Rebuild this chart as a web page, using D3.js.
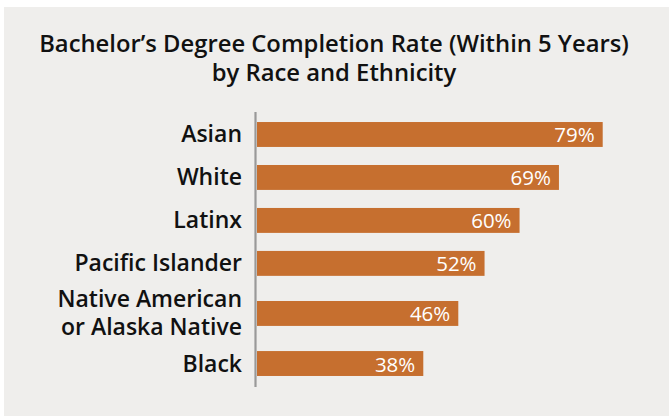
<!DOCTYPE html>
<html>
<head>
<meta charset="utf-8">
<script src="https://cdn.jsdelivr.net/npm/d3@7"></script>
<style>
  html, body { margin: 0; padding: 0; background: #fff; }
  svg { display: block; }
  text { font-family: "Open Sans", "Noto Sans", sans-serif; font-variant-ligatures: none; }
</style>
</head>
<body>
<div id="chart"></div>
<script>
// Datos del gráfico
const categorias = [["Asian"], ["White"], ["Latinx"], ["Pacific Islander"], ["Native American", "or Alaska Native"], ["Black"]];
const valores = [79, 69, 60, 52, 46, 38];
const titulo = ["Bachelor\u2019s Degree Completion Rate (Within 5 Years)", "by Race and Ethnicity"];

const width = 670, height = 416;
const colorBarra = "#c66f2f";
const colorFondo = "#efeeec";

const svg = d3.select("#chart").append("svg")
    .attr("width", width)
    .attr("height", height);

// Panel gris de fondo
svg.append("rect")
    .attr("x", 4).attr("y", 7)
    .attr("width", width - 5).attr("height", height - 7)
    .style("fill", colorFondo);

// Título
svg.append("text")
    .attr("text-anchor", "middle")
    .style("font-size", "23.8px")
    .style("font-weight", 600)
    .style("fill", "#111")
    .selectAll("tspan")
    .data(titulo)
    .join("tspan")
    .attr("x", 334)
    .attr("y", (d, i) => 52 + i * 29)
    .text(d => d);

// Cada fila ocupa un espacio según el número de líneas de su etiqueta
const pesos = categorias.map(c => 1 + 0.33 * (c.length - 1));
const acumulado = [0];
pesos.forEach(p => acumulado.push(acumulado[acumulado.length - 1] + p));
const total = acumulado[acumulado.length - 1];

const y = d3.scaleLinear().domain([0, total]).range([113, 385]);
const unidad = y(1) - y(0);
const grosor = unidad * 0.58;
const centro = i => y(acumulado[i] + pesos[i] / 2);

const x = d3.scaleLinear().domain([0, 100]).range([257, 694.6]);

const filas = svg.append("g")
    .selectAll("g")
    .data(valores)
    .join("g");

filas.append("rect")
    .attr("x", x(0))
    .attr("y", (d, i) => centro(i) - grosor / 2)
    .attr("width", d => x(d) - x(0))
    .attr("height", grosor)
    .style("fill", colorBarra);

filas.append("text")
    .attr("x", d => x(d) - 8)
    .attr("y", (d, i) => centro(i) + 8)
    .attr("text-anchor", "end")
    .style("font-size", "20.5px")
    .style("font-weight", 500)
    .style("fill", "#fff")
    .text(d => d + "%");

// Etiquetas de categorías
filas.append("text")
    .attr("text-anchor", "end")
    .style("font-size", "23px")
    .style("font-weight", 600)
    .style("fill", "#111")
    .each(function(d, i) {
        const lineas = categorias[i];
        const y0 = centro(i) + 8 - (lineas.length - 1) * 28 / 2;
        d3.select(this).selectAll("tspan")
            .data(lineas)
            .join("tspan")
            .attr("x", 242)
            .attr("y", (t, j) => y0 + j * 28)
            .text(t => t);
    });

// Línea del eje
svg.append("line")
    .attr("x1", 255.5).attr("x2", 255.5)
    .attr("y1", 112).attr("y2", 387)
    .style("stroke", "#999")
    .style("stroke-width", 2.2);
</script>
</body>
</html>
